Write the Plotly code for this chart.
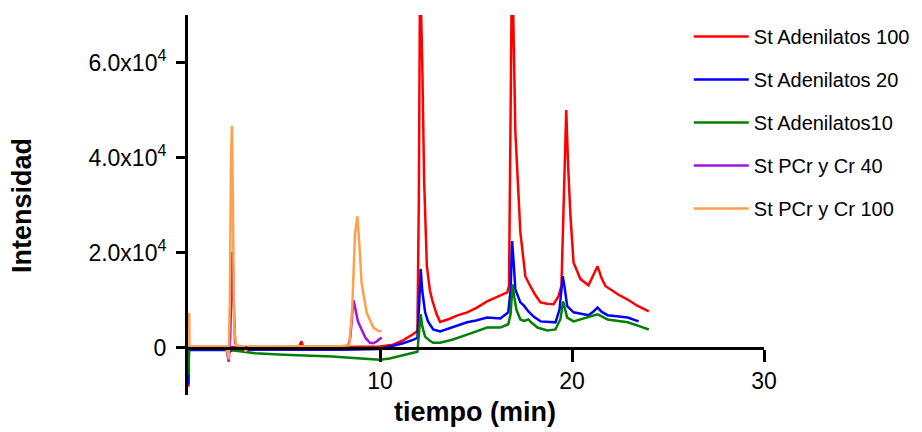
import plotly.graph_objects as go

# ---------------- data ----------------
red_t = [0, 0.02, 0.05, 1.0, 2.0, 2.2, 2.4, 3.0, 5.0, 5.8, 5.9, 6.0, 6.2, 8.0, 10.0, 10.68, 11.2, 11.72,
         11.95, 12.02, 12.08, 12.13, 12.2, 12.3, 12.44, 12.6, 12.72, 12.95, 13.13, 13.6, 14.0, 14.54, 15.0,
         15.58, 16.1, 16.63, 16.72, 16.79, 16.86, 16.93, 17.05, 17.31, 17.57, 17.83, 18.1, 18.36, 18.7,
         19.04, 19.3, 19.45, 19.58, 19.7, 19.8, 19.92, 20.08, 20.44, 20.86, 21.1, 21.33, 21.55, 21.75,
         22.1, 22.38, 22.9, 23.4, 24.0]
red_y = [-8000, -8000, 100, 100, 100, 0, 100, 100, 100, 200, 1300, 200, 100, 100, 200, 600, 1500, 2800,
         3500, 30000, 75000, 72000, 60000, 35000, 17200, 12000, 10000, 7000, 5400, 6000, 6700, 7400, 8300,
         9700, 10700, 11600, 13000, 50000, 75000, 72000, 45400, 24300, 15000, 12900, 11000, 9500, 9200,
         9100, 10800, 13000, 35000, 50000, 38000, 27700, 17900, 14400, 13100, 15000, 17100, 14500, 12900,
         12000, 11200, 10100, 8800, 7600]

blue_t = [0, 0.02, 0.05, 1.0, 2.0, 2.15, 2.3, 2.5, 4.0, 6.0, 8.0, 10.0, 10.68, 11.2, 11.72, 11.95, 12.05,
          12.12, 12.2, 12.35, 12.5, 12.77, 13.13, 13.8, 14.54, 15.0, 15.58, 16.27, 16.68, 16.8, 16.88, 16.96,
          17.05, 17.31, 17.5, 17.73, 18.0, 18.36, 19.14, 19.35, 19.52, 19.62, 19.75, 20.08, 20.86, 21.1,
          21.33, 21.55, 21.85, 22.9, 23.47]
blue_y = [-7500, -7500, -500, -500, -500, -900, -600, -500, -500, -500, -450, -300, 300, 900, 1600, 2000,
          10000, 16500, 12000, 7400, 5500, 3800, 3400, 4300, 5300, 5700, 6300, 6100, 7400, 12000, 22400,
          18000, 12200, 9500, 8800, 7600, 6500, 5500, 5300, 8000, 15000, 12500, 8700, 7400, 6800, 7500, 8400,
          7500, 6800, 6300, 5500]

green_t = [0, 0.02, 0.05, 1.0, 2.0, 2.5, 3.5, 5.0, 7.5, 9.0, 10.0, 10.5, 11.0, 11.6, 11.95, 12.05, 12.12,
           12.2, 12.35, 12.6, 12.77, 13.13, 13.8, 14.54, 15.0, 15.58, 16.27, 16.68, 16.8, 16.91, 17.0, 17.1,
           17.31, 17.5, 17.73, 17.9, 18.2, 18.72, 19.14, 19.4, 19.54, 19.65, 19.75, 20.08, 20.8, 21.33,
           21.85, 22.9, 23.5, 24.0]
green_y = [-5500, -5500, -200, -200, -300, -700, -1200, -1500, -1900, -2300, -2600, -2300, -1800, -1200,
           -900, 4000, 7000, 4500, 2300, 1400, 1000, 1000, 1700, 2700, 3300, 4200, 4200, 4900, 7000, 13300,
           10500, 8000, 5900, 5600, 5900, 5200, 4200, 3600, 3800, 6000, 9700, 8000, 6300, 5500, 6300, 7000,
           5900, 5300, 4500, 3800]

purple_t = [0, 0.05, 1.0, 2.0, 2.12, 2.2, 2.27, 2.31, 2.36, 2.45, 2.6, 3.0, 5.0, 7.0, 8.3, 8.45, 8.55,
            8.62, 8.7, 8.85, 9.04, 9.25, 9.48, 9.65, 9.83, 10.09]
purple_y = [0, -200, -200, -300, -3000, 2000, 15000, 20100, 12000, 1000, -100, -300, -300, -300, -300,
            2000, 7500, 10000, 8500, 5500, 3800, 2000, 1000, 900, 1300, 2100]

orange_t = [0, 0.06, 0.08, 1.0, 2.0, 2.12, 2.18, 2.24, 2.29, 2.34, 2.4, 2.5, 2.7, 2.9, 3.0, 3.15, 4.0,
            6.0, 8.0, 8.4, 8.55, 8.7, 8.82, 8.92, 9.04, 9.3, 9.65, 9.9, 10.09]
orange_y = [7000, 7000, 200, 200, 200, -2500, 10000, 40000, 46700, 30000, 5000, 500, 300, 200, -800, 200,
            200, 200, 300, 500, 8000, 24000, 27600, 22000, 13700, 7400, 4200, 3500, 3400]

series_names = ["St Adenilatos 100", "St Adenilatos 20", "St Adenilatos10",
                "St PCr y Cr 40", "St PCr y Cr 100"]
series_colors = ["#FF0000", "#0000FF", "#008000", "#A214E0", "#FFA04A"]

y_tickvals = [0, 20000, 40000, 60000]
y_ticktext = ["0", "2.0x10<sup>4</sup>", "4.0x10<sup>4</sup>", "6.0x10<sup>4</sup>"]
x_tickvals = [10, 20, 30]
x_ticktext = ["10", "20", "30"]
x_title = "tiempo (min)"
y_title = "Intensidad"

# ---------------- figure ----------------
# the page body has an 8px default margin, so the figure is 8px smaller
# and its margins are offset by 8px to land the plot area on the reference.
FONT = "Liberation Sans, Arial, sans-serif"
fig = go.Figure()
all_t = [red_t, blue_t, green_t, purple_t, orange_t]
all_y = [red_y, blue_y, green_y, purple_y, orange_y]
for i, (t, y) in enumerate(zip(all_t, all_y)):
    fig.add_trace(go.Scatter(x=t, y=y, mode="lines", name=series_names[i],
                             legendgroup=f"g{i}",
                             line=dict(color=series_colors[i], width=2.5)))

YMIN, YMAX = -10000, 70000
PL, PT, PW, PH = 180, 7, 576, 380   # plot area in figure pixels
fig.update_layout(
    width=914, height=424,
    margin=dict(l=PL, r=914 - PL - PW, t=PT, b=424 - PT - PH),
    paper_bgcolor="white", plot_bgcolor="white",
    font=dict(family=FONT, color="#000000"),
    showlegend=True,
    legend=dict(x=0.866 + 2 / PW, y=1.0 - 2 / PH, xanchor="left", yanchor="top",
                font=dict(size=20, family=FONT, color="#000"),
                tracegroupgap=14, traceorder="grouped",
                bgcolor="rgba(0,0,0,0)", itemwidth=55),
    xaxis=dict(range=[0, 30], anchor="free", position=(0 - YMIN) / (YMAX - YMIN),
               tickvals=x_tickvals, ticktext=x_ticktext,
               ticks="outside", ticklen=12, tickwidth=3, tickcolor="#000",
               showline=True, linewidth=3, linecolor="#000",
               showgrid=False, zeroline=False,
               tickfont=dict(size=23, family=FONT, color="#000")),
    yaxis=dict(range=[YMIN, YMAX], tickvals=y_tickvals, ticktext=y_ticktext,
               ticks="outside", ticklen=9, tickwidth=3, tickcolor="#000",
               showline=True, linewidth=3, linecolor="#000",
               showgrid=False, zeroline=False, ticklabelstandoff=5,
               tickfont=dict(size=23, family=FONT, color="#000")),
    annotations=[
        dict(text=f"<b>{x_title}</b>", xref="paper", yref="paper",
             x=(475 - 188) / PW, y=(395 - 412) / PH, xanchor="center", yanchor="middle",
             showarrow=False, font=dict(size=27, family=FONT, color="#000")),
        dict(text=f"<b>{y_title}</b>", xref="paper", yref="paper", textangle=-90,
             x=(22 - 188) / PW, y=(395 - 206) / PH, xanchor="center", yanchor="middle",
             showarrow=False, font=dict(size=27, family=FONT, color="#000")),
    ],
)

fig.write_html("out.html")
